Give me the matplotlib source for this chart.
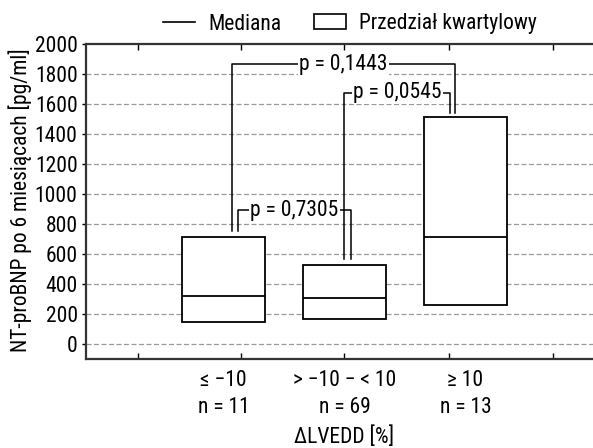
from matplotlib import pyplot as plt
from matplotlib.lines import Line2D
from matplotlib.patches import Patch

# dane
grupy = ['\u2264 \u221210', '> \u221210 \u2212 < 10', '\u2265 10']
liczebnosc = ['n = 11', 'n = 69', 'n = 13']
q1 = [150, 170, 260]
mediana = [320, 308, 715]
q3 = [712, 526, 1514]

# porownania: (grupa a, grupa b, p, wysokosc klamry)
porownania = [(0, 1, 'p = 0,7305', 892),
              (1, 2, 'p = 0,0545', 1676),
              (0, 2, 'p = 0,1443', 1865)]

plt.rcParams['font.family'] = ['Roboto Condensed', 'Archivo Narrow', 'DejaVu Sans']
plt.rcParams['font.size'] = 15.5

fig = plt.figure(figsize=(5.93, 4.48), dpi=100)
ax = fig.add_axes([86/593, 1 - 359/448, 1 - 86/593, 315/448])

pos = [1, 2, 3]
ax.bar(pos, [b - a for a, b in zip(q1, q3)], bottom=q1, width=0.686,
       facecolor='white', edgecolor='black', linewidth=1.3, zorder=3)
ax.hlines(mediana, [p - 0.343 for p in pos], [p + 0.343 for p in pos],
          color='black', linewidth=1.3, zorder=4)

# klamry z wartosciami p
off_lewy = {(0, 1): 0.117, (1, 2): 0.0, (0, 2): 0.068}
off_prawy = {(1, 2): -0.128, (0, 1): 0.054, (0, 2): -0.087}
for i, (a, b, txt, h) in enumerate(porownania):
    xa = pos[a] + off_lewy[(a, b)]
    xb = pos[b] + off_prawy[(a, b)]
    ya = q3[a] + 40
    yb = q3[b] + 25 if b == 2 else q3[b] + 38
    ax.plot([xa, xa, xb, xb], [ya, h, h, yb], color='black', lw=1.1, zorder=5 + 2 * i)
    ax.text((xa + xb) / 2, h, txt, ha='center', va='center', zorder=6 + 2 * i,
            bbox=dict(facecolor='white', edgecolor='none', pad=1.0))

ax.set_xlim(-0.136, 4.054)
ax.set_ylim(-100, 2000)
ax.set_yticks(range(0, 2001, 200))
for y in range(0, 1801, 200):
    ax.axhline(y, color='#999999', lw=0.9, ls=(0, (4, 2)), zorder=1)

ax.set_xticks([0.293, 1.145, 2.0, 2.864, 3.723])
ax.set_xticklabels([])
ax.tick_params(axis='x', direction='in', length=4, top=True, width=1)
ax.tick_params(axis='y', direction='out', length=3, pad=3, width=1)
ax.spines['right'].set_visible(False)
for s in ['left', 'bottom', 'top']:
    ax.spines[s].set_linewidth(1.6)
    ax.spines[s].set_color('#333333')

for p, g, n in zip(pos, grupy, liczebnosc):
    ax.text(p, -0.068, g, transform=ax.get_xaxis_transform(), ha='center', va='center')
    ax.text(p, -0.155, n, transform=ax.get_xaxis_transform(), ha='center', va='center')
ax.text(2, -0.248, '\u0394LVEDD [%]', transform=ax.get_xaxis_transform(),
        ha='center', va='center')

fig.text(20/593, 1 - 200/448, 'NT-proBNP po 6 miesi\u0105cach [pg/ml]',
         rotation=90, ha='center', va='center')

uchwyty = [Line2D([], [], color='black', lw=1.2),
           Patch(facecolor='white', edgecolor='black', lw=1.2)]
fig.legend(uchwyty, ['Mediana', 'Przedzia\u0142 kwartylowy'], ncol=2,
           loc='center', bbox_to_anchor=(350/593, 1 - 24/448), frameon=False,
           handlelength=1.5, handletextpad=0.6, columnspacing=1.5)

fig.savefig('out.png', dpi=100)
